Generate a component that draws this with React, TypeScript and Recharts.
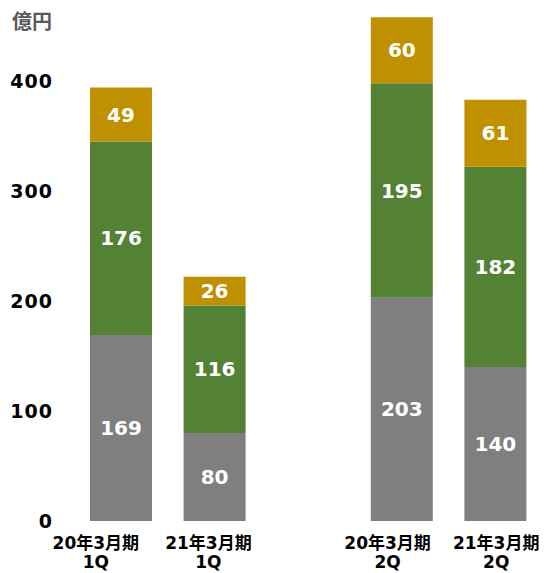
import { BarChart, Bar, XAxis, YAxis, LabelList } from 'recharts';

// categories (the empty one is the spacer between 1Q and 2Q)
const periods = ['20年3月期', '21年3月期', '', '20年3月期', '21年3月期'];
const quarters = ['1Q', '1Q', '', '2Q', '2Q'];

// 億円
const grayValues = [169, 80, null, 203, 140];
const greenValues = [176, 116, null, 195, 182];
const goldValues = [49, 26, null, 60, 61];

const yTicks = [0, 100, 200, 300, 400];

const chartData = periods.map((p, i) => ({
  name: `${p}|${quarters[i]}`,
  gray: grayValues[i],
  green: greenValues[i],
  gold: goldValues[i],
}));

const FONT = "'DejaVu Sans', 'Noto Sans CJK JP', sans-serif";
// the text boxes under the bars are not quite centred in the source
const TICK_SHIFT = [-25, -6, 0, -14, 1];

function PeriodTick(props: any) {
  const { x, y, payload, index } = props;
  const [line1, line2] = String(payload.value).split('|');
  if (!line1) return null;
  const cx = x + (TICK_SHIFT[index] ?? 0);
  return (
    <g>
      <text x={cx} y={y + 26} textAnchor="middle" fontSize={17} fontWeight="bold" fill="#000" fontFamily={FONT}>
        {line1}
      </text>
      <text x={cx} y={y + 45} textAnchor="middle" fontSize={17} fontWeight="bold" fill="#000" fontFamily={FONT}>
        {line2}
      </text>
    </g>
  );
}

const labelStyle = {
  fill: '#fff',
  fontSize: 20,
  fontWeight: 'bold',
  fontFamily: FONT,
};

export default function App() {
  return (
    <div style={{ position: 'relative', width: 539, height: 565 }}>
      <div
        style={{
          position: 'absolute',
          left: 4,
          top: 2,
          fontSize: 20,
          fontWeight: 'bold',
          color: '#595959',
          fontFamily: FONT,
          lineHeight: '24px',
        }}
      >
        億円
      </div>
      <BarChart
        width={539}
        height={565}
        data={chartData}
        margin={{ top: 7, right: 5, bottom: 0, left: 0 }}
      >
        <XAxis
          dataKey="name"
          axisLine={false}
          tickLine={false}
          tickSize={0}
          height={52}
          interval={0}
          tick={<PeriodTick />}
        />
        <YAxis
          width={66}
          domain={[0, 460]}
          ticks={yTicks}
          axisLine={false}
          tickLine={false}
          tickSize={0}
          tickMargin={21}
          tick={{ fill: '#000', fontSize: 19, fontWeight: 'bold', fontFamily: FONT, letterSpacing: 1 }}
        />
        <Bar dataKey="gray" stackId="a" fill="#7f7f7f" barSize={62} isAnimationActive={false}>
          <LabelList dataKey="gray" position="center" style={labelStyle} />
        </Bar>
        <Bar dataKey="green" stackId="a" fill="#548235" barSize={62} isAnimationActive={false}>
          <LabelList dataKey="green" position="center" style={labelStyle} />
        </Bar>
        <Bar dataKey="gold" stackId="a" fill="#bf9000" barSize={62} isAnimationActive={false}>
          <LabelList dataKey="gold" position="center" style={labelStyle} />
        </Bar>
      </BarChart>
    </div>
  );
}
